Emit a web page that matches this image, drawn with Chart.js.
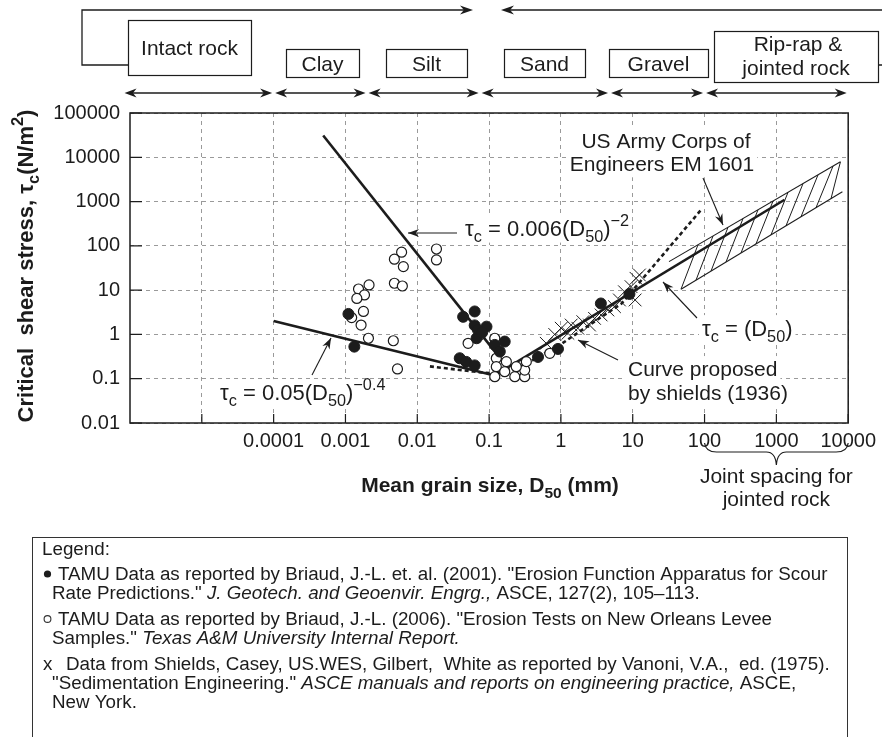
<!DOCTYPE html>
<html>
<head>
<meta charset="utf-8">
<script src="https://cdn.jsdelivr.net/npm/chart.js@4.4.0/dist/chart.umd.min.js"></script>
<style>
  body { margin: 0; background: #fff; }
  canvas { display: block; }
</style>
</head>
<body>
<canvas id="chart" width="882" height="737"></canvas>
<script>
// Axis ticks (D50 in mm, tau in N/m2)
const xTickValues = [1e-5, 1e-4, 1e-3, 1e-2, 1e-1, 1, 10, 100, 1000, 10000];
const xTickLabels = ["", "0.0001", "0.001", "0.01", "0.1", "1", "10", "100", "1000", "10000"];
const yTickValues = [0.01, 0.1, 1, 10, 100, 1000, 10000, 100000];
const yTickLabels = ["0.01", "0.1", "1", "10", "100", "1000", "10000", "100000"];

// Soil classes along the top, boundaries in mm
const classNames = ["Intact rock", "Clay", "Silt", "Sand", "Gravel", "Rip-rap &\njointed rock"];
const classBounds = [8e-7, 1e-4, 0.002, 0.075, 4.75, 100, 10000];

// TAMU data, Briaud et al. (2001) - filled dots [D50, tau]
const tamu2001 = [
  [0.0011, 2.9], [0.00133, 0.53], [0.0435, 2.5], [0.063, 3.3], [0.063, 1.6],
  [0.092, 1.5], [0.07, 1.26], [0.067, 0.82], [0.08, 1.1], [0.12, 0.58],
  [0.165, 0.69], [0.141, 0.41], [0.039, 0.29], [0.048, 0.24], [0.063, 0.2],
  [0.48, 0.31], [0.91, 0.47], [3.6, 5.0], [9.0, 8.2]
];

// TAMU data, Briaud (2006) - open circles [D50, tau]
const tamu2006 = [
  [0.00605, 72], [0.0048, 50], [0.0064, 34], [0.0048, 14.3], [0.0062, 12.4],
  [0.00213, 13.1], [0.00152, 10.6], [0.00184, 7.8], [0.00144, 6.5], [0.00178, 3.3],
  [0.00122, 2.4], [0.00165, 1.63], [0.00209, 0.82], [0.00464, 0.72], [0.0053, 0.166],
  [0.0185, 85], [0.0185, 48], [0.051, 0.63], [0.074, 0.97], [0.12, 0.82],
  [0.126, 0.29], [0.126, 0.187], [0.12, 0.111], [0.165, 0.144], [0.174, 0.243],
  [0.228, 0.111], [0.313, 0.111], [0.313, 0.157], [0.239, 0.187], [0.33, 0.243],
  [0.70, 0.375]
];

// Shields, Casey, US.WES, Gilbert, White (Vanoni 1975) - crosses [D50, tau]
const vanoni = [
  [0.625, 0.63], [0.82, 1.0], [1.01, 1.38], [1.25, 1.06], [1.39, 1.63],
  [1.72, 1.38], [2.02, 1.94], [2.5, 1.63], [2.94, 2.3], [3.63, 2.75],
  [4.5, 3.57], [5.57, 4.24], [6.53, 6.0], [7.67, 9.2], [9.47, 12],
  [11.1, 18.5], [10.8, 6.0], [12.4, 22]
];

// Fitted relations
const steepD = [0.00049, 0.18];      // tau = 0.006 D^-2
const steepTau = [31000, 0.18];
const flatD = [0.0001, 0.115];       // tau = 0.05 D^-0.4
const flatTau = [2.0, 0.12];
const linD = [0.115, 1300];          // tau = D
const linTau = [0.115, 1100];

// Shields (1936) curve
const shieldsD = [0.015, 0.06, 0.12, 0.3, 1, 3, 7, 12, 93];
const shieldsTau = [0.19, 0.145, 0.13, 0.2, 0.6, 2, 5, 14, 700];

// US Army Corps of Engineers EM 1601 band
const corpsUpperD = [32, 7800];
const corpsUpperTau = [44, 7900];
const corpsLowerD = [47, 8300];
const corpsLowerTau = [10.5, 1660];

const FONT = "'Liberation Sans', Arial, Helvetica, sans-serif";
const INK = "#1c1c1c";

const toPts = (arr) => arr.map(([x, y]) => ({ x, y }));
const zipPts = (xs, ys) => xs.map((x, i) => ({ x, y: ys[i] }));

// ---------- drawing helpers ----------
function arrowHead(ctx, x, y, ang, len, half) {
  ctx.save();
  ctx.translate(x, y);
  ctx.rotate(ang);
  ctx.beginPath();
  ctx.moveTo(0, 0);
  ctx.lineTo(-len, -half);
  ctx.lineTo(-len * 0.7, 0);
  ctx.lineTo(-len, half);
  ctx.closePath();
  ctx.fill();
  ctx.restore();
}

function arrow(ctx, x1, y1, x2, y2, len = 10, half = 4) {
  ctx.beginPath();
  ctx.moveTo(x1, y1);
  ctx.lineTo(x2, y2);
  ctx.stroke();
  arrowHead(ctx, x2, y2, Math.atan2(y2 - y1, x2 - x1), len, half);
}

// parts: [text, level, italic] level -1 = subscript, 1 = superscript
function measureRich(ctx, parts, size, weight) {
  return parts.map(([t, lvl, it]) => {
    const fs = lvl ? size * 0.74 : size;
    ctx.font = `${it ? "italic " : ""}${weight} ${fs}px ${FONT}`;
    return { t, lvl, fs, it, w: ctx.measureText(t).width };
  });
}

function drawRich(ctx, parts, x, y, size, weight = "normal", align = "left", bg = false) {
  const m = measureRich(ctx, parts, size, weight);
  const total = m.reduce((s, p) => s + p.w, 0);
  let cx = align === "center" ? x - total / 2 : align === "right" ? x - total : x;
  if (bg) {
    ctx.save();
    ctx.fillStyle = "#fff";
    ctx.fillRect(cx - 3, y - size * 0.95, total + 6, size * 1.25);
    ctx.restore();
  }
  ctx.textAlign = "left";
  ctx.textBaseline = "alphabetic";
  m.forEach((p) => {
    ctx.font = `${p.it ? "italic " : ""}${weight} ${p.fs}px ${FONT}`;
    const dy = p.lvl < 0 ? size * 0.28 : p.lvl > 0 ? -size * 0.45 : 0;
    ctx.fillText(p.t, cx, y + dy);
    cx += p.w;
  });
  return total;
}

// ---------- plugin: annotations, hatching, frame ----------
const figurePlugin = {
  id: "figure",
  beforeDatasetsDraw(chart) {
    const ctx = chart.ctx;
    ctx.save();
    ctx.fillStyle = INK;
    drawRich(ctx, [["τ", 0], ["c", -1], [" = 0.006(D", 0], ["50", -1], [")", 0], ["−2", 1]], 465, 236, 22, "normal", "left", true);
    drawRich(ctx, [["US Army Corps of", 0]], 666, 148, 21, "normal", "center", true);
    drawRich(ctx, [["Engineers EM 1601", 0]], 662, 171, 21, "normal", "center", true);
    drawRich(ctx, [["τ", 0], ["c", -1], [" = (D", 0], ["50", -1], [")", 0]], 702, 336, 22, "normal", "left", true);
    drawRich(ctx, [["Curve proposed", 0]], 628, 376, 21, "normal", "left", true);
    drawRich(ctx, [["by shields (1936)", 0]], 628, 400, 21, "normal", "left", true);
    drawRich(ctx, [["τ", 0], ["c", -1], [" = 0.05(D", 0], ["50", -1], [")", 0], ["−0.4", 1]], 220, 400, 22, "normal", "left", true);
    ctx.restore();
  },
  afterDatasetsDraw(chart) {
    const { ctx, chartArea: a, scales: { x, y } } = chart;
    const px = (d, t) => [x.getPixelForValue(d), y.getPixelForValue(t)];

    // hatching of the Corps of Engineers band
    const l0 = px(corpsLowerD[0], corpsLowerTau[0]);
    const l1 = px(corpsLowerD[1], corpsLowerTau[1]);
    const u0 = px(corpsUpperD[0], corpsUpperTau[0]);
    const u1 = px(corpsUpperD[1], corpsUpperTau[1]);
    const onUpper = (xx) => u0[1] + (u1[1] - u0[1]) * (xx - u0[0]) / (u1[0] - u0[0]);
    const onLower = (xx) => l0[1] + (l1[1] - l0[1]) * (xx - l0[0]) / (l1[0] - l0[0]);
    ctx.save();
    ctx.strokeStyle = INK;
    ctx.lineWidth = 1;
    for (let xx = l0[0]; xx <= l1[0] - 8; xx += 15) {
      const xe = Math.min(xx + 17, u1[0]);
      ctx.beginPath();
      ctx.moveTo(xx, onLower(xx));
      ctx.lineTo(xe, onUpper(xe));
      ctx.stroke();
    }
    ctx.restore();

    // frame and inner ticks
    ctx.save();
    ctx.strokeStyle = INK;
    ctx.lineWidth = 1.5;
    ctx.strokeRect(a.left, a.top, a.right - a.left, a.bottom - a.top);
    ctx.lineWidth = 1.2;
    ctx.beginPath();
    xTickValues.forEach((v) => {
      const xp = x.getPixelForValue(v);
      ctx.moveTo(xp, a.bottom);
      ctx.lineTo(xp, a.bottom - 9);
    });
    yTickValues.forEach((v) => {
      const yp = y.getPixelForValue(v);
      ctx.moveTo(a.left, yp);
      ctx.lineTo(a.left + 12, yp);
    });
    ctx.stroke();

    // callout arrows
    ctx.fillStyle = INK;
    ctx.lineWidth = 1.1;
    arrow(ctx, 457, 233, 408, 233, 11, 4);
    arrow(ctx, 703, 178, 723, 225, 11, 4);
    arrow(ctx, 697, 318, 663, 282, 11, 4);
    arrow(ctx, 618, 360, 578, 340, 11, 4);
    arrow(ctx, 312, 375, 331, 338, 11, 4);
    ctx.restore();
  },
  afterDraw(chart) {
    const { ctx, scales: { x } } = chart;
    ctx.save();
    ctx.strokeStyle = INK;
    ctx.fillStyle = INK;

    // top bracket arrows
    ctx.lineWidth = 1.3;
    ctx.beginPath();
    ctx.moveTo(128, 65);
    ctx.lineTo(82, 65);
    ctx.lineTo(82, 10);
    ctx.lineTo(470, 10);
    ctx.stroke();
    arrowHead(ctx, 473, 10, 0, 13, 4.5);
    ctx.beginPath();
    ctx.moveTo(504, 10);
    ctx.lineTo(882, 10);
    ctx.moveTo(878, 65);
    ctx.lineTo(882, 65);
    ctx.stroke();
    arrowHead(ctx, 501, 10, Math.PI, 13, 4.5);

    // class boxes
    const boxes = [[128, 20, 251, 75], [286, 49, 359, 77], [386, 49, 467, 77], [504, 49, 585, 77], [609, 49, 708, 77], [714, 31, 878, 82]];
    ctx.lineWidth = 1.2;
    ctx.font = `21px ${FONT}`;
    ctx.textAlign = "center";
    ctx.textBaseline = "alphabetic";
    boxes.forEach(([x1, y1, x2, y2], i) => {
      ctx.strokeRect(x1 + 0.5, y1 + 0.5, x2 - x1, y2 - y1);
      const lines = classNames[i].split("\n");
      const cx = (x1 + x2) / 2;
      if (lines.length === 1) {
        ctx.fillText(lines[0], cx, (y1 + y2) / 2 + 7.5);
      } else {
        ctx.fillText(lines[0], cx + 2, 51);
        ctx.fillText(lines[1], cx, 75);
      }
    });

    // class range arrows
    ctx.lineWidth = 1.3;
    for (let i = 0; i < classBounds.length - 1; i++) {
      const xa = x.getPixelForValue(classBounds[i]) + 1.5;
      const xb = x.getPixelForValue(classBounds[i + 1]) - 1.5;
      ctx.beginPath();
      ctx.moveTo(xa + 4, 93);
      ctx.lineTo(xb - 4, 93);
      ctx.stroke();
      arrowHead(ctx, xb, 93, 0, 12, 4.5);
      arrowHead(ctx, xa, 93, Math.PI, 12, 4.5);
    }

    // axis titles
    drawRich(ctx, [["Mean grain size, D", 0], ["50", -1], [" (mm)", 0]], 490, 492, 21, "bold", "center");
    ctx.save();
    ctx.translate(25, 266);
    ctx.rotate(-Math.PI / 2);
    drawRich(ctx, [["Critical  shear stress, τ", 0], ["c", -1], ["(N/m", 0], ["2", 1], [")", 0]], 0, 8, 22, "bold", "center");
    ctx.restore();

    // brace for joint spacing
    const b1 = x.getPixelForValue(100), b2 = x.getPixelForValue(10000), bm = x.getPixelForValue(1000);
    ctx.lineWidth = 1.2;
    ctx.beginPath();
    ctx.moveTo(b1, 443);
    ctx.quadraticCurveTo(b1 + 1, 452, b1 + 12, 452);
    ctx.lineTo(bm - 10, 452);
    ctx.quadraticCurveTo(bm - 1, 452, bm, 465);
    ctx.quadraticCurveTo(bm + 1, 452, bm + 10, 452);
    ctx.lineTo(b2 - 12, 452);
    ctx.quadraticCurveTo(b2 - 1, 452, b2, 443);
    ctx.stroke();
    ctx.font = `21px ${FONT}`;
    ctx.textAlign = "center";
    ctx.fillText("Joint spacing for", bm, 483);
    ctx.fillText("jointed rock", bm, 506);

    // legend box
    ctx.lineWidth = 1;
    ctx.strokeStyle = "#333";
    ctx.strokeRect(32.5, 537.5, 815, 230);
    const fs = 18.8;
    drawRich(ctx, [["Legend:", 0]], 42, 555, fs);
    ctx.beginPath();
    ctx.arc(47.5, 574, 3.6, 0, Math.PI * 2);
    ctx.fill();
    drawRich(ctx, [["TAMU Data as reported by Briaud, J.-L. et. al. (2001). \"Erosion Function Apparatus for Scour", 0]], 58, 580, fs);
    drawRich(ctx, [["Rate Predictions.\" ", 0], ["J. Geotech. and Geoenvir. Engrg.,", 0, true], [" ASCE, 127(2), 105–113.", 0]], 52, 599, fs);
    ctx.beginPath();
    ctx.lineWidth = 1.1;
    ctx.arc(47.5, 619, 3.4, 0, Math.PI * 2);
    ctx.stroke();
    drawRich(ctx, [["TAMU Data as reported by Briaud, J.-L. (2006). \"Erosion Tests on New Orleans Levee", 0]], 58, 625, fs);
    drawRich(ctx, [["Samples.\" ", 0], ["Texas A&M University Internal Report.", 0, true]], 52, 644, fs);
    drawRich(ctx, [["x", 0]], 43, 670, fs);
    drawRich(ctx, [["Data from Shields, Casey, US.WES, Gilbert,  White as reported by Vanoni, V.A.,  ed. (1975).", 0]], 66, 670, fs);
    drawRich(ctx, [["\"Sedimentation Engineering.\" ", 0], ["ASCE manuals and reports on engineering practice,", 0, true], [" ASCE,", 0]], 52, 689, fs);
    drawRich(ctx, [["New York.", 0]], 52, 708, fs);
    ctx.restore();
  }
};

Chart.defaults.font.family = FONT;
Chart.defaults.color = INK;

const lineDs = (label, data, extra = {}) => Object.assign({
  label, data, showLine: true, pointRadius: 0, borderColor: INK,
  borderWidth: 2.6, fill: false, order: 5
}, extra);

new Chart(document.getElementById("chart"), {
  type: "scatter",
  data: {
    datasets: [
      lineDs("tau = 0.006 D^-2", zipPts(steepD, steepTau)),
      lineDs("tau = 0.05 D^-0.4", zipPts(flatD, flatTau)),
      lineDs("tau = D", zipPts(linD, linTau)),
      lineDs("Shields (1936)", zipPts(shieldsD, shieldsTau), { borderDash: [4, 3], borderWidth: 2.6 }),
      lineDs("Corps upper", zipPts(corpsUpperD, corpsUpperTau), { borderWidth: 1.1 }),
      lineDs("Corps lower", zipPts(corpsLowerD, corpsLowerTau), { borderWidth: 1.1 }),
      {
        label: "Vanoni (1975)", data: toPts(vanoni), pointStyle: "crossRot",
        pointRadius: 9, borderColor: INK, borderWidth: 1, order: 3
      },
      {
        label: "Briaud (2006)", data: toPts(tamu2006), pointStyle: "circle",
        pointRadius: 5, backgroundColor: "#fff", borderColor: INK, borderWidth: 1.2, order: 2
      },
      {
        label: "Briaud (2001)", data: toPts(tamu2001), pointStyle: "circle",
        pointRadius: 5.5, backgroundColor: INK, borderColor: INK, borderWidth: 1, order: 1
      }
    ]
  },
  options: {
    responsive: false,
    animation: false,
    layout: { padding: { left: 0, top: 113, right: 30, bottom: 254 } },
    plugins: { legend: { display: false }, tooltip: { enabled: false } },
    scales: {
      x: {
        type: "logarithmic",
        min: 1e-6,
        max: 1e4,
        afterBuildTicks: (s) => { s.ticks = xTickValues.map((v) => ({ value: v })); },
        afterFit: (s) => { s.height = 60; },
        ticks: {
          autoSkip: false, maxRotation: 0, padding: 6,
          font: { size: 20 }, color: INK,
          callback: (v, i) => xTickLabels[i]
        },
        grid: { color: "#9a9a9a", lineWidth: 1, drawTicks: false },
        border: { display: false, dash: [4, 4] }
      },
      y: {
        type: "logarithmic",
        min: 0.01,
        max: 100000,
        afterBuildTicks: (s) => { s.ticks = yTickValues.map((v) => ({ value: v })); },
        afterFit: (s) => { s.width = 130; },
        ticks: {
          autoSkip: false, padding: 10,
          font: { size: 20 }, color: INK,
          callback: (v, i) => yTickLabels[i]
        },
        grid: { color: "#9a9a9a", lineWidth: 1, drawTicks: false },
        border: { display: false, dash: [4, 4] }
      }
    }
  },
  plugins: [figurePlugin]
});
</script>
</body>
</html>
